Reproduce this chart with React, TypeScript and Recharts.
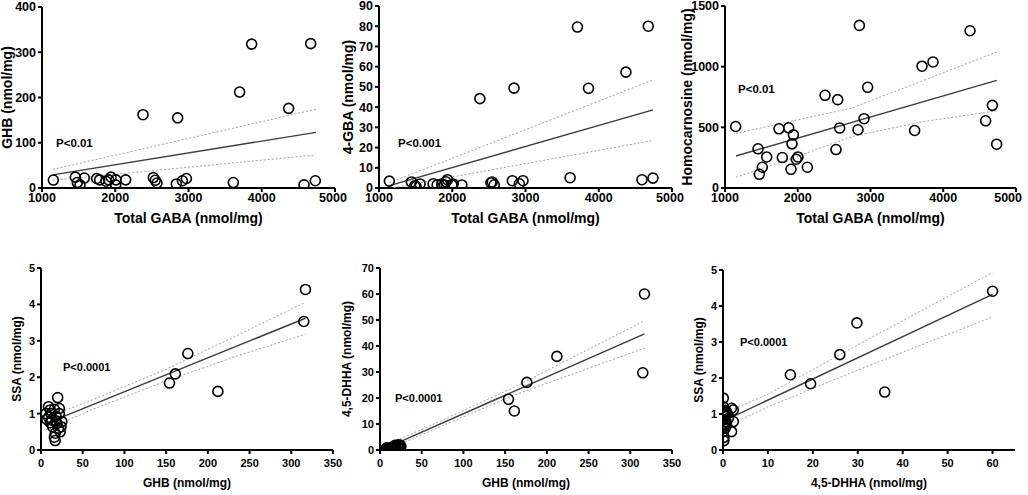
import React from "react";
import { ScatterChart, Scatter, XAxis, YAxis, Label } from "recharts";

type Pt = [number, number];

// tick labels
const gabaTicks = [1000, 2000, 3000, 4000, 5000];
const ghbAxisTicks = [0, 50, 100, 150, 200, 250, 300, 350];
const dhhaAxisTicks = [0, 10, 20, 30, 40, 50, 60];
const ghbTicks = [0, 100, 200, 300, 400];
const gbaTicks = [0, 10, 20, 30, 40, 50, 60, 70, 80, 90];
const homoTicks = [0, 500, 1000, 1500];
const ssaTicks = [0, 1, 2, 3, 4, 5];
const dhhaTicks = [0, 10, 20, 30, 40, 50, 60, 70];

// Total GABA vs GHB
const gabaGhb: Pt[] = [
  [1155, 17.6], [1455, 24], [1482, 12], [1519, 7], [1578, 22], [1746, 21], [1787, 18],
  [1874, 15], [1910, 18], [1942, 24], [2010, 18], [2006, 7], [2142, 18], [2379, 162],
  [2520, 23], [2546, 17], [2570, 11], [2834, 9], [2852, 155], [2916, 16], [2971, 21],
  [3612, 12], [3698, 212], [3862, 318], [4367, 176], [4577, 7], [4668, 319], [4731, 16],
];
const gabaGhbFit: Pt[] = [[1146, 29], [4740, 123]];
const gabaGhbUpper: Pt[] = [[1146, 41], [4740, 174]];
const gabaGhbLower: Pt[] = [[1146, 17], [4740, 73]];

// Total GABA vs 4-GBA
const gabaGba: Pt[] = [
  [1141, 3.4], [1442, 3.0], [1488, 1.1], [1505, 0.8], [1561, 2.0], [1739, 2.1], [1794, 1.5],
  [1857, 2.0], [1894, 1.5], [1912, 3.1], [1935, 4.1], [1995, 1.5], [2012, 2.0], [2131, 1.5],
  [2377, 44.2], [2528, 2.6], [2546, 3.0], [2573, 1.6], [2820, 3.6], [2843, 49.4], [2916, 2.1],
  [2966, 3.6], [3609, 5.1], [3709, 79.6], [3860, 49.3], [4371, 57.3], [4590, 4.1], [4676, 80],
  [4740, 4.9],
];
const gabaGbaFit: Pt[] = [[1141, 1.2], [4740, 38.6]];
const gabaGbaUpper: Pt[] = [[1141, 2.6], [4740, 53.4]];
const gabaGbaLower: Pt[] = [[1200, 0.2], [4740, 23.5]];

// Total GABA vs Homocarnosine
const gabaHomo: Pt[] = [
  [1147, 507], [1454, 323], [1513, 171], [1472, 113], [1573, 256], [1742, 488], [1788, 251],
  [1875, 496], [1907, 154], [1940, 438], [1921, 364], [1980, 237], [2003, 256], [2132, 171],
  [2375, 764], [2549, 728], [2576, 494], [2526, 317], [2828, 480], [2847, 1340], [2911, 571],
  [2961, 830], [3607, 474], [3708, 1004], [3859, 1039], [4368, 1296], [4583, 554], [4675, 681],
  [4734, 361],
];
const gabaHomoFit: Pt[] = [[1151, 264], [4735, 887]];
const gabaHomoUpper: Pt[] = [[1151, 450], [1986, 560], [2750, 660], [3700, 880], [4735, 1121]];
const gabaHomoLower: Pt[] = [[1151, 88], [1986, 259], [2750, 425], [3700, 545], [4735, 636]];

// GHB vs SSA
const ghbSsa: Pt[] = [
  [20, 1.44], [9, 1.19], [22, 1.14], [6, 1.0], [12, 1.0], [18, 0.93], [9, 0.9], [13, 0.82],
  [25, 0.78], [19, 0.73], [14, 0.64], [21, 0.6], [23, 0.5], [17, 0.46], [16, 0.35], [17, 0.26],
  [11, 1.1], [16, 1.12], [22, 1.0], [11, 0.75], [18, 0.8], [24, 0.64], [7, 0.84],
  [154, 1.84], [161, 2.09], [176, 2.65], [212, 1.61], [315, 3.53], [317, 4.41],
];
const ghbSsaFit: Pt[] = [[6, 0.726], [317, 3.62]];
const ghbSsaUpper: Pt[] = [[6, 0.9], [60, 1.36], [150, 2.22], [240, 3.2], [317, 4.06]];
const ghbSsaLower: Pt[] = [[6, 0.55], [60, 1.1], [150, 1.9], [240, 2.62], [317, 3.18]];

// GHB vs 4,5-DHHA
const ghbDhha: Pt[] = [
  [7, 0.3], [8, 0.8], [9, 0.2], [11, 0.5], [12, 0.1], [14, 0.6], [15, 0.3], [16, 1.2],
  [17, 0.9], [18, 0.4], [18, 1.8], [19, 1.0], [20, 0.2], [21, 1.5], [22, 0.7], [22, 2.0],
  [23, 1.1], [24, 1.9], [24, 0.5], [25, 1.4], [17, 0.1], [13, 0.9], [10, 0.0],
  [154, 19.5], [161, 15], [176, 26], [212, 36], [315, 29.7], [317, 60],
];
const ghbDhhaFit: Pt[] = [[6, 0.65], [317, 44.7]];
const ghbDhhaUpper: Pt[] = [[6, 1.8], [60, 9.3], [160, 24.0], [317, 49.7]];
const ghbDhhaLower: Pt[] = [[8, 0.0], [60, 7.3], [160, 21.0], [317, 39.2]];

// 4,5-DHHA vs SSA
const dhhaSsa: Pt[] = [
  [0.07, 1.44], [0.07, 1.2], [0.44, 1.06], [0.07, 1.0], [0.8, 1.04], [1.9, 1.16], [2.3, 1.11],
  [0.44, 0.93], [0.67, 0.79], [2.3, 0.79], [0.8, 0.69], [0.44, 0.6], [0.07, 0.51], [1.9, 0.51],
  [0.2, 0.35], [0.2, 0.26], [1.2, 0.88], [0.3, 0.95], [0.5, 0.72], [1.0, 1.0], [0.2, 0.84],
  [0.6, 1.1], [0.3, 0.66],
  [60, 4.41], [29.8, 3.53], [26, 2.65], [15, 2.09], [19.5, 1.84], [36, 1.61],
];
const dhhaSsaFit: Pt[] = [[0, 0.8], [60, 4.32]];
const dhhaSsaUpper: Pt[] = [[0, 1.02], [10, 1.55], [30, 2.92], [60, 4.93]];
const dhhaSsaLower: Pt[] = [[0, 0.62], [10, 1.2], [30, 2.22], [60, 3.7]];

const FONT = "'Liberation Sans', Arial, Helvetica, sans-serif";
const toXY = (pts: Pt[]) => pts.map(([x, y]) => ({ x, y }));

const Ring = (props: any) => (
  <circle cx={props.cx} cy={props.cy} r={5} fill="none" stroke="#000" strokeWidth={1.6} />
);
const NoShape = () => <g />;

// the two rows of the figure use slightly different type sizes
const TOP_ROW = { tick: 12.5, title: 14, p: 11.5, tickGap: 1, titleDy: 30 };
const BOTTOM_ROW = { tick: 11, title: 12, p: 11, tickGap: 5, titleDy: 33 };

type PanelProps = {
  box: [number, number, number, number]; // plot left, top, right, bottom on the page
  row: typeof TOP_ROW;
  xDomain: [number, number];
  xTicks: number[];
  yDomain: [number, number];
  yTicks: number[];
  points: Pt[];
  fit: Pt[];
  upper: Pt[];
  lower: Pt[];
  xTitle: string;
  yTitle: string;
  yTitleDx: number;
  pText: string;
  pPos: [number, number];
  xTickClamp?: number; // page x that an x tick label may not pass
};

function Panel(p: PanelProps) {
  const [left, top, right, bottom] = p.box;
  const yw = 50, mt = 10, mr = 14, xh = 45;
  const plotW = right - left;
  const plotH = bottom - top;
  const width = yw + plotW + mr;
  const height = mt + plotH + xh;
  const tickStyle = { fill: "#000", fontSize: p.row.tick, fontWeight: 700, fontFamily: FONT };
  const axisLine = { stroke: "#000", strokeWidth: 2 };
  const titleStyle = { fill: "#000", fontSize: p.row.title, fontWeight: 700, fontFamily: FONT };
  const clamp = p.xTickClamp !== undefined ? p.xTickClamp - (left - yw) : undefined;

  const xTick = (props: any) => {
    const label = String(props.payload.value);
    const half = (label.length * p.row.tick * 0.556) / 2;
    let tx = props.x;
    let anchor: "middle" | "end" = "middle";
    if (clamp !== undefined && props.x + half > clamp) {
      tx = clamp;
      anchor = "end";
    }
    return (
      <text x={tx} y={props.y} dy="0.71em" textAnchor={anchor} style={tickStyle}>
        {label}
      </text>
    );
  };

  return (
    <>
      <div style={{ position: "absolute", left: left - yw, top: top - mt }}>
        <ScatterChart width={width} height={height} margin={{ top: mt, right: mr, bottom: 0, left: 0 }}>
          <XAxis
            type="number"
            dataKey="x"
            domain={p.xDomain}
            ticks={p.xTicks}
            allowDataOverflow
            height={xh}
            axisLine={axisLine}
            tickLine={axisLine}
            tickSize={4}
            tickMargin={p.row.tickGap}
            tick={xTick}
          >
            <Label
              content={() => (
                <text
                  x={yw + plotW / 2}
                  y={mt + plotH + p.row.titleDy}
                  textAnchor="middle"
                  dominantBaseline="central"
                  style={titleStyle}
                >
                  {p.xTitle}
                </text>
              )}
            />
          </XAxis>
          <YAxis
            type="number"
            dataKey="y"
            domain={p.yDomain}
            ticks={p.yTicks}
            allowDataOverflow
            width={yw}
            axisLine={axisLine}
            tickLine={axisLine}
            tickSize={4}
            tickMargin={2}
            tick={tickStyle}
          >
            <Label
              content={() => {
                const cx = yw + p.yTitleDx;
                const cy = mt + plotH / 2;
                return (
                  <text
                    x={cx}
                    y={cy}
                    transform={`rotate(-90 ${cx} ${cy})`}
                    textAnchor="middle"
                    dominantBaseline="central"
                    style={titleStyle}
                  >
                    {p.yTitle}
                  </text>
                );
              }}
            />
          </YAxis>
          <Scatter
            data={toXY(p.upper)}
            shape={NoShape}
            line={{ stroke: "#a0a0a0", strokeWidth: 1, strokeDasharray: "2 2" }}
            isAnimationActive={false}
          />
          <Scatter
            data={toXY(p.lower)}
            shape={NoShape}
            line={{ stroke: "#a0a0a0", strokeWidth: 1, strokeDasharray: "2 2" }}
            isAnimationActive={false}
          />
          <Scatter
            data={toXY(p.fit)}
            shape={NoShape}
            line={{ stroke: "#3c3c3c", strokeWidth: 1.4 }}
            isAnimationActive={false}
          />
          <Scatter data={toXY(p.points)} shape={Ring} isAnimationActive={false} />
        </ScatterChart>
      </div>
      <div
        style={{
          position: "absolute",
          left: p.pPos[0],
          top: p.pPos[1] - 7,
          fontSize: p.row.p,
          lineHeight: "14px",
          fontWeight: 700,
          fontFamily: FONT,
          color: "#000",
          whiteSpace: "nowrap",
        }}
      >
        {p.pText}
      </div>
    </>
  );
}

export default function App() {
  return (
    <div
      style={{
        position: "absolute",
        left: 0,
        top: 0,
        width: 1028,
        height: 495,
        overflow: "hidden",
        background: "#fff",
      }}
    >
      <Panel
        box={[42, 7, 335, 188]}
        row={TOP_ROW}
        xDomain={[1000, 5000]}
        xTicks={gabaTicks}
        yDomain={[0, 400]}
        yTicks={ghbTicks}
        points={gabaGhb}
        fit={gabaGhbFit}
        upper={gabaGhbUpper}
        lower={gabaGhbLower}
        xTitle="Total GABA (nmol/mg)"
        yTitle="GHB (nmol/mg)"
        yTitleDx={-35}
        pText="P<0.01"
        pPos={[56, 143]}
      />
      <Panel
        box={[379, 6, 672, 188]}
        row={TOP_ROW}
        xDomain={[1000, 5000]}
        xTicks={gabaTicks}
        yDomain={[0, 90]}
        yTicks={gbaTicks}
        points={gabaGba}
        fit={gabaGbaFit}
        upper={gabaGbaUpper}
        lower={gabaGbaLower}
        xTitle="Total GABA (nmol/mg)"
        yTitle="4-GBA (nmol/mg)"
        yTitleDx={-31}
        pText="P<0.001"
        pPos={[398, 143]}
      />
      <Panel
        box={[725, 6, 1016, 188]}
        row={TOP_ROW}
        xDomain={[1000, 5000]}
        xTicks={gabaTicks}
        yDomain={[0, 1500]}
        yTicks={homoTicks}
        points={gabaHomo}
        fit={gabaHomoFit}
        upper={gabaHomoUpper}
        lower={gabaHomoLower}
        xTitle="Total GABA (nmol/mg)"
        yTitle="Homocarnosine (nmol/mg)"
        yTitleDx={-38}
        pText="P<0.01"
        pPos={[738, 89]}
        xTickClamp={1022}
      />
      <Panel
        box={[41, 268, 333, 450]}
        row={BOTTOM_ROW}
        xDomain={[0, 350]}
        xTicks={ghbAxisTicks}
        yDomain={[0, 5]}
        yTicks={ssaTicks}
        points={ghbSsa}
        fit={ghbSsaFit}
        upper={ghbSsaUpper}
        lower={ghbSsaLower}
        xTitle="GHB (nmol/mg)"
        yTitle="SSA (nmol/mg)"
        yTitleDx={-24}
        pText="P<0.0001"
        pPos={[63, 367]}
      />
      <Panel
        box={[380, 268, 672, 450]}
        row={BOTTOM_ROW}
        xDomain={[0, 350]}
        xTicks={ghbAxisTicks}
        yDomain={[0, 70]}
        yTicks={dhhaTicks}
        points={ghbDhha}
        fit={ghbDhhaFit}
        upper={ghbDhhaUpper}
        lower={ghbDhhaLower}
        xTitle="GHB (nmol/mg)"
        yTitle="4,5-DHHA (nmol/mg)"
        yTitleDx={-33}
        pText="P<0.0001"
        pPos={[395, 398]}
      />
      <Panel
        box={[723, 270, 1015, 450]}
        row={BOTTOM_ROW}
        xDomain={[0, 65]}
        xTicks={dhhaAxisTicks}
        yDomain={[0, 5]}
        yTicks={ssaTicks}
        points={dhhaSsa}
        fit={dhhaSsaFit}
        upper={dhhaSsaUpper}
        lower={dhhaSsaLower}
        xTitle="4,5-DHHA  (nmol/mg)"
        yTitle="SSA (nmol/mg)"
        yTitleDx={-24}
        pText="P<0.0001"
        pPos={[740, 342]}
      />
    </div>
  );
}
